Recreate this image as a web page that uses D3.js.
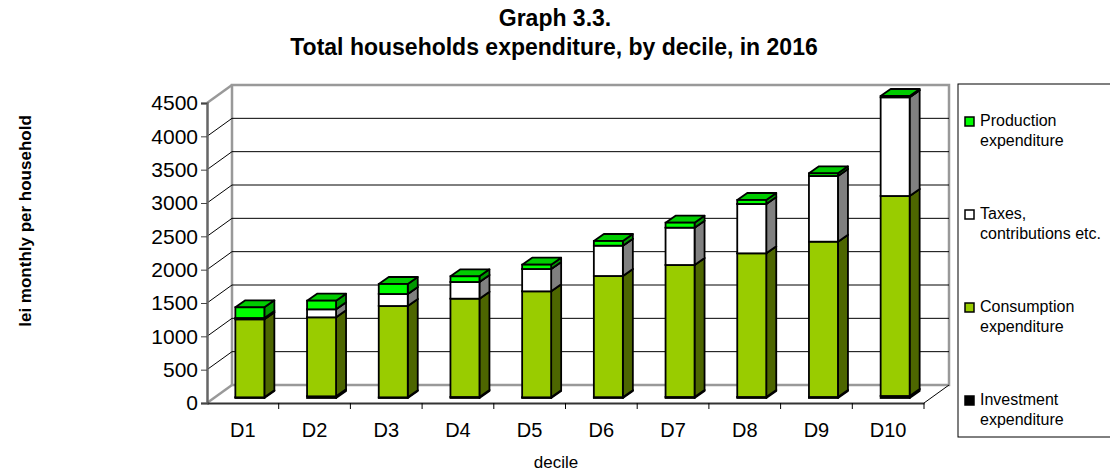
<!DOCTYPE html>
<html>
<head>
<meta charset="utf-8">
<script src="https://cdn.jsdelivr.net/npm/d3@7"></script>
<style>
  body { margin: 0; background: #fff; }
  text { font-family: "Liberation Sans", Arial, sans-serif; }
</style>
</head>
<body>
<div id="svgcontainer"></div>
<script>
let width = 1110;
let height = 474;

let deciles = ["D1", "D2", "D3", "D4", "D5", "D6", "D7", "D8", "D9", "D10"];
let investment = [10, 25, 10, 15, 10, 12, 15, 15, 15, 30];
let consumption = [1170, 1185, 1370, 1475, 1590, 1818, 1980, 2155, 2330, 3000];
let taxes = [20, 120, 180, 250, 335, 455, 560, 740, 985, 1480];
let production = [160, 130, 150, 85, 65, 70, 75, 60, 40, 20];
let yTicks = [0, 500, 1000, 1500, 2000, 2500, 3000, 3500, 4000, 4500];

// stacked bottom-up
let series = [
    { name: "Investment expenditure", lines: ["Investment", "expenditure"], values: investment, front: "#000", side: "#000", top: "#000" },
    { name: "Consumption expenditure", lines: ["Consumption", "expenditure"], values: consumption, front: "#99cc00", side: "#4d6600", top: "#7a9e00" },
    { name: "Taxes, contributions etc.", lines: ["Taxes,", "contributions etc."], values: taxes, front: "#ffffff", side: "#808080", top: "#d9d9d9" },
    { name: "Production expenditure", lines: ["Production", "expenditure"], values: production, front: "#00ff00", side: "#009900", top: "#00cc00" }
];

// 3d offsets
let wall = { dx: 25, dy: -18 };
let plane = { dx: 7, dy: -5 };
let depth = { dx: 10, dy: -7 };
let barW = 29;

let svg = d3.select("#svgcontainer")
    .append('svg')
    .attr('width', width)
    .attr('height', height);

var x = d3.scaleBand()
    .domain(deciles)
    .range([207, 924]);
var y = d3.scaleLinear()
    .domain([0, 4500])
    .range([403, 103]);

// back wall + grid
svg.append('rect')
    .attr('x', x.range()[0] + wall.dx)
    .attr('y', y(4500) + wall.dy)
    .attr('width', x.range()[1] - x.range()[0])
    .attr('height', y(0) - y(4500))
    .style('fill', '#fff')
    .style('stroke', '#999')
    .style('stroke-width', 2.5);
svg.append('g').selectAll('line.grid')
    .data(yTicks.slice(1, -1))
    .enter()
    .append('line')
    .attr('x1', x.range()[0] + wall.dx)
    .attr('x2', x.range()[1] + wall.dx)
    .attr('y1', d => y(d) + wall.dy)
    .attr('y2', d => y(d) + wall.dy)
    .style('stroke', '#000')
    .style('stroke-width', 1);
// left wall diagonals
svg.append('g').selectAll('line.diag')
    .data(yTicks)
    .enter()
    .append('line')
    .attr('x1', x.range()[0])
    .attr('x2', x.range()[0] + wall.dx)
    .attr('y1', d => y(d))
    .attr('y2', d => y(d) + wall.dy)
    .style('stroke', (d, i) => (i == 0 || i == yTicks.length - 1) ? '#999' : '#000')
    .style('stroke-width', (d, i) => (i == 0 || i == yTicks.length - 1) ? 2.5 : 1);
// floor right edge
svg.append('line')
    .attr('x1', x.range()[1]).attr('y1', y(0))
    .attr('x2', x.range()[1] + wall.dx).attr('y2', y(0) + wall.dy)
    .style('stroke', '#000').style('stroke-width', 1);

// axes
svg.append('g')
    .attr('class', 'yaxis axis')
    .attr('transform', 'translate(' + x.range()[0] + ',0)')
    .call(d3.axisLeft(y).tickValues(yTicks).tickSize(6).tickPadding(3).tickFormat(d3.format('d')))
    .call(g => g.select('.domain').style('stroke', '#666').style('stroke-width', 2.5))
    .call(g => g.selectAll('.tick line').style('stroke', '#444'))
    .call(g => g.selectAll('.tick text').style('font-size', '21px').style('fill', '#000'));
svg.append('g')
    .attr('class', 'xaxis axis')
    .attr('transform', 'translate(0,' + y(0) + ')')
    .call(d3.axisBottom(x).tickSize(0).tickPadding(20))
    .call(g => g.select('.domain').style('stroke', '#333').style('stroke-width', 2))
    .call(g => g.selectAll('.tick text').style('font-size', '20px').style('fill', '#000'));
// tick marks at category borders
svg.append('g').selectAll('line.xt')
    .data(deciles.slice(1).concat(['end']))
    .enter()
    .append('line')
    .attr('x1', d => d === 'end' ? x.range()[1] : x(d))
    .attr('x2', d => d === 'end' ? x.range()[1] : x(d))
    .attr('y1', y(0))
    .attr('y2', y(0) + 6)
    .style('stroke', '#000')
    .style('stroke-width', 1);

// bars
let stacked = deciles.map(function (dec, i) {
    let base = 0;
    return series.map(function (s) {
        let seg = { dec: dec, s: s, y0: base, y1: base + s.values[i] };
        base += s.values[i];
        return seg;
    });
});
var bars = svg.append('g').attr('class', 'bars');
stacked.forEach(function (segs) {
    var g = bars.append('g').attr('class', 'bar');
    segs.forEach(function (seg) {
        let x0 = x(seg.dec) + x.bandwidth() / 2 + plane.dx - barW / 2;
        let x1 = x0 + barW;
        let yb = y(seg.y0) + plane.dy;
        let yt = y(seg.y1) + plane.dy;
        let pts = function (a) { return a.map(p => p.join(',')).join(' '); };
        g.append('polygon')
            .attr('points', pts([[x1, yb], [x1 + depth.dx, yb + depth.dy], [x1 + depth.dx, yt + depth.dy], [x1, yt]]))
            .style('fill', seg.s.side).style('stroke', '#000').style('stroke-width', 1.8).style('stroke-linejoin', 'round');
        g.append('polygon')
            .attr('points', pts([[x0, yt], [x1, yt], [x1 + depth.dx, yt + depth.dy], [x0 + depth.dx, yt + depth.dy]]))
            .style('fill', seg.s.top).style('stroke', '#000').style('stroke-width', 1.8).style('stroke-linejoin', 'round');
        g.append('rect')
            .attr('x', x0).attr('y', yt)
            .attr('width', barW).attr('height', yb - yt)
            .style('fill', seg.s.front).style('stroke', '#000').style('stroke-width', 1.8);
    });
});

// titles
svg.append('text')
    .attr('x', 555).attr('y', 26)
    .attr('text-anchor', 'middle')
    .style('font-size', '23px').style('font-weight', 'bold')
    .text('Graph 3.3.');
svg.append('text')
    .attr('x', 554).attr('y', 55)
    .attr('text-anchor', 'middle')
    .style('font-size', '23px').style('font-weight', 'bold')
    .text('Total households expenditure, by decile, in 2016');
svg.append('text')
    .attr('transform', 'translate(31,221) rotate(-90)')
    .attr('text-anchor', 'middle')
    .style('font-size', '17px').style('font-weight', 'bold')
    .text('lei monthly per household');
svg.append('text')
    .attr('x', 556).attr('y', 468)
    .attr('text-anchor', 'middle')
    .style('font-size', '17px')
    .text('decile');

// legend
var legend = svg.append('g').attr('class', 'legend');
legend.append('rect')
    .attr('x', 958).attr('y', 84)
    .attr('width', 200).attr('height', 353)
    .style('fill', '#fff').style('stroke', '#000').style('stroke-width', 1);
let legendItems = series.slice().reverse();
var items = legend.selectAll('g.item')
    .data(legendItems)
    .enter()
    .append('g')
    .attr('class', 'item')
    .attr('transform', (d, i) => 'translate(965,' + (117 + i * 93) + ')');
items.append('rect')
    .attr('width', 9).attr('height', 9)
    .style('fill', d => d.front).style('stroke', '#000').style('stroke-width', 1.5);
items.selectAll('text')
    .data(d => d.lines)
    .enter()
    .append('text')
    .attr('x', 15)
    .attr('y', (d, i) => 9 + i * 20)
    .style('font-size', '16px')
    .text(d => d);
</script>
</body>
</html>
